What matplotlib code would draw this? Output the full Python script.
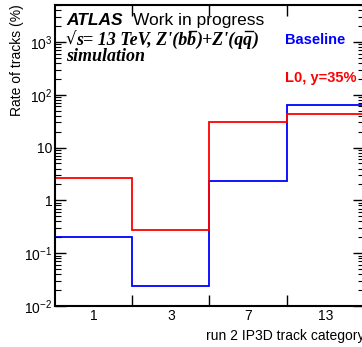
import matplotlib
matplotlib.use("Agg")
import matplotlib.pyplot as plt
import numpy as np
from matplotlib.ticker import FixedLocator, FixedFormatter, LogLocator, NullFormatter
from matplotlib.lines import Line2D

plt.rcParams['font.family'] = ['Liberation Sans', 'DejaVu Sans']
plt.rcParams['mathtext.fontset'] = 'custom'
plt.rcParams['mathtext.rm'] = 'Liberation Sans'
plt.rcParams['mathtext.it'] = 'Liberation Sans:italic'
plt.rcParams['mathtext.bf'] = 'Liberation Sans:bold'

categories = ["1", "3", "7", "13"]
baseline = [0.20, 0.024, 2.3, 63.5]
l0 = [2.6, 0.28, 29.9, 42.9]
ytick_vals = [1e-2, 1e-1, 1, 10, 1e2, 1e3]
ytick_labels = [r"$10^{-2}$", r"$10^{-1}$", "1", "10", r"$10^{2}$", r"$10^{3}$"]

W, H = 362, 347
fig = plt.figure(figsize=(W / 100, H / 100), dpi=100)
L, R, B, T = 55, 364, 306, 5
ax = fig.add_axes([L / W, 1 - B / H, (R - L) / W, (B - T) / H])

edges = np.arange(len(categories) + 1)
ax.stairs(baseline, edges, color='#0000ff', lw=1.3, baseline=None)
ax.stairs(l0, edges, color='#ff0000', lw=1.3, baseline=None)

ax.set_yscale('log')
ax.set_ylim(1e-2, 5000)
ax.set_xlim(0, len(categories))

ax.yaxis.set_major_locator(FixedLocator(ytick_vals))
ax.yaxis.set_major_formatter(FixedFormatter(ytick_labels))
ax.yaxis.set_minor_locator(LogLocator(base=10, subs=np.arange(2, 10), numticks=20))
ax.yaxis.set_minor_formatter(NullFormatter())

ax.xaxis.set_major_locator(FixedLocator(edges[1:-1]))
ax.xaxis.set_major_formatter(NullFormatter())
ax.xaxis.set_minor_locator(FixedLocator(edges[:-1] + 0.5))
ax.xaxis.set_minor_formatter(FixedFormatter(categories))

ax.tick_params(axis='y', which='major', direction='in', length=8, width=1, right=True, labelsize=10, pad=2)
ax.tick_params(axis='y', which='minor', direction='in', length=4, width=0.8, right=True)
ax.tick_params(axis='x', which='major', direction='in', length=8, width=1, top=True)
ax.tick_params(axis='x', which='minor', length=0, labelsize=10, pad=2)
for s in ax.spines.values():
    s.set_linewidth(1.5)

fig.text(364 / W, 1 - 340 / H, "run 2 IP3D track category", ha='right', va='baseline', fontsize=10)
fig.text(17.5 / W, 1 - 4 / H, "Rate of tracks (%)", rotation=90, ha='center', va='top', fontsize=10)

fig.text(66 / W, 1 - 25 / H, "ATLAS", fontsize=12.5, fontweight='bold', fontstyle='italic', va='baseline')
fig.text(133 / W, 1 - 25 / H, "Work in progress", fontsize=12.5, va='baseline')

# serif process line, built piece by piece so that antiquark bars can be drawn
renderer = fig.canvas.get_renderer()
serif = dict(fontsize=13, family=['Liberation Serif', 'DejaVu Serif'],
             fontweight='bold', fontstyle='italic', va='baseline')
root = dict(fontsize=12, family=['DejaVu Sans'], va='baseline')
pieces = [("\u221a", False, root), ("s= 13 TeV, Z'(b", False, serif), ("b", True, serif),
          (")+Z'(q", False, serif), ("q", True, serif), (")", False, serif)]
xpix = 65.0
ybase = H - 45
for txt, bar, style in pieces:
    t = fig.text(xpix / W, ybase / H, txt, **style)
    ext = t.get_window_extent(renderer)
    if bar:
        x0 = ext.x0 + 2.0
        x1 = ext.x1 + 0.5
        yb = ybase + 14
        fig.add_artist(Line2D([x0 / W, x1 / W], [yb / H, yb / H], color='black', lw=1.0,
                              transform=fig.transFigure))
    xpix = ext.x1

fig.text(66 / W, 1 - 61 / H, "simulation", **serif)
fig.text(285 / W, 1 - 44 / H, "Baseline", fontsize=10.5, fontweight='bold', color='#0000ff', va='baseline')
fig.text(285 / W, 1 - 82 / H, "L0, y=35%", fontsize=10.5, fontweight='bold', color='#ff0000', va='baseline')

fig.savefig("out.png", dpi=100)
